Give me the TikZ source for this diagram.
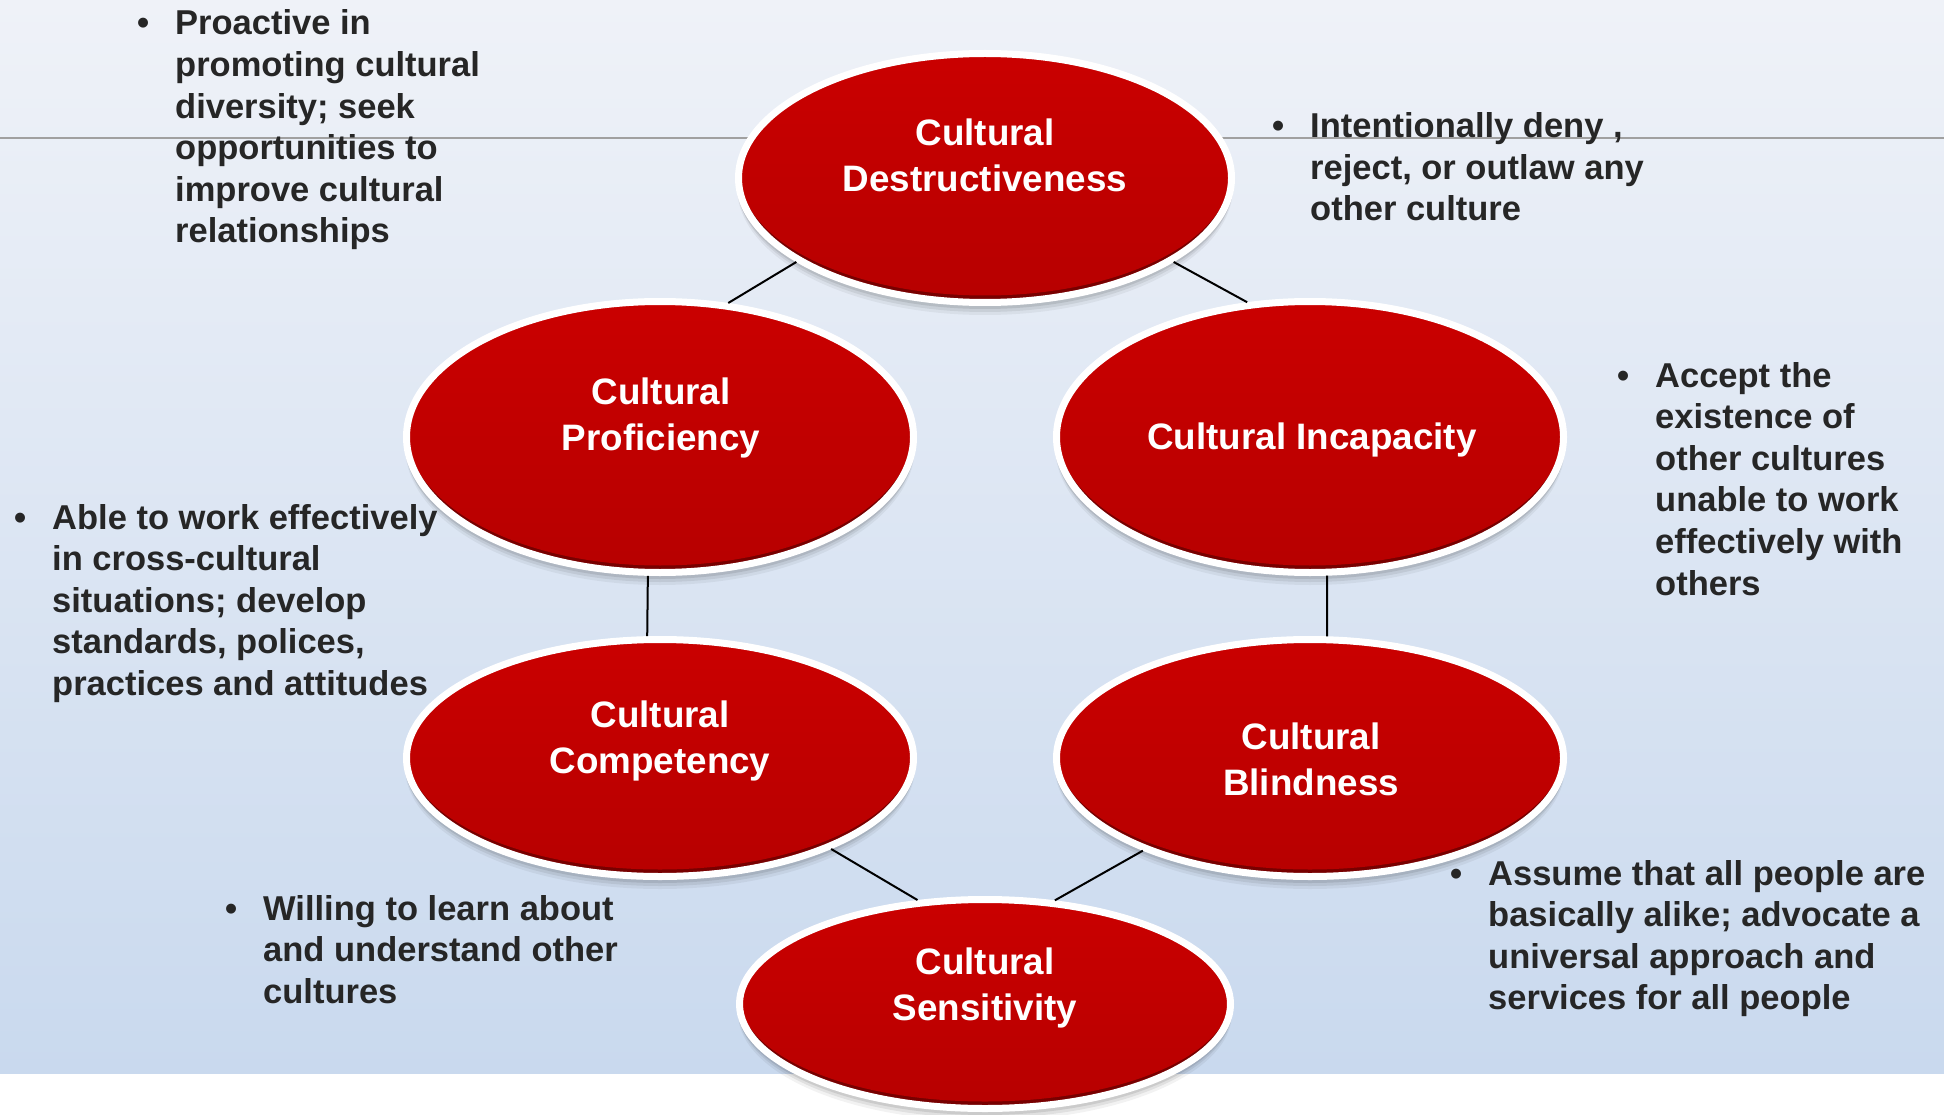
\documentclass[tikz,border=0pt]{standalone}
\usepackage{fontspec}
\setmainfont{Liberation Sans}
\usetikzlibrary{shapes.geometric}
\definecolor{bgtop}{HTML}{EFF2F8}
\definecolor{bgbot}{HTML}{C9D9EE}
\definecolor{hired}{HTML}{CA0000}
\definecolor{midred}{HTML}{BA0000}
\definecolor{mainred}{HTML}{B70000}
\definecolor{rimred}{HTML}{780000}
\definecolor{textgray}{HTML}{262626}
\definecolor{rulegray}{HTML}{A0A0A0}
\newcommand\sidelines[1]{\begin{tabular}[t]{@{}l@{}}#1\end{tabular}}
\newcommand\ovallines[1]{\begin{tabular}[t]{@{}c@{}}#1\end{tabular}}
\newcommand\bul{\llap{\textbullet\hspace{26pt}}}
\newcommand\ovalshadow[4]{%
  \fill[black,opacity=.05] (#1,#2+9) ellipse [x radius=#3pt-2pt, y radius=#4pt];
  \fill[black,opacity=.07] (#1,#2+6) ellipse [x radius=#3pt-2pt, y radius=#4pt];
  \fill[black,opacity=.09] (#1,#2+3) ellipse [x radius=#3pt-1pt, y radius=#4pt];
}
\tikzset{
  oval/.style 2 args={ellipse, inner sep=0pt, minimum width=#1, minimum height=#2,
     draw=white, line width=7pt, fill=rimred,
     path picture={\shade[top color=hired, middle color=midred, bottom color=mainred]
        ([yshift=5pt]path picture bounding box.center) ellipse [x radius=#1/2-1pt, y radius=#2/2-2pt];}},
  ovaltext/.style={anchor=base, inner sep=0pt, text=white, font=\bfseries\fontsize{36.8}{46}\selectfont},
  sidetext/.style={anchor=base west, inner sep=0pt, text=textgray, font=\bfseries\fontsize{34.5}{41.6}\selectfont},
  link/.style={draw=black, line width=2pt},
}
\begin{document}
\begin{tikzpicture}[x=1pt,y=-1pt]
\useasboundingbox (0,0) rectangle (1944,1115);
\fill[white] (0,0) rectangle (1944,1115);
\shade[top color=bgtop, bottom color=bgbot] (0,0) rectangle (1944,1073);
\draw[rulegray, line width=2pt] (0,138) -- (1944,138);

% shadows
\ovalshadow{985}{178}{250}{128}
\ovalshadow{660}{437}{257}{139}
\ovalshadow{1310}{437}{257}{139}
\ovalshadow{660}{758}{257}{122}
\ovalshadow{1310}{758}{257}{122}
\ovalshadow{985}{1004}{249}{108}

% ovals
\node[oval={493pt}{249pt}] (D) at (985,178) {};
\node[oval={507pt}{271pt}] (P) at (660,437) {};
\node[oval={507pt}{271pt}] (I) at (1310,437) {};
\node[oval={507pt}{237pt}] (C) at (660,758) {};
\node[oval={507pt}{237pt}] (B) at (1310,758) {};
\node[oval={491pt}{209pt}] (S) at (985,1004) {};

% connectors
\draw[link] (D.204) -- (P.63);
\draw[link] (D.336) -- (I.115);
\draw[link] (P.265) -- (C.96);
\draw[link] (I.277) -- (B.82);
\draw[link] (C.332) -- (S.123);
\draw[link] (B.209) -- (S.56);

% oval texts
\node[ovaltext] (Dt) at (985,146) {\ovallines{Cultural\\Destructiveness}};
\node[ovaltext] (Pt) at (661,404) {\ovallines{Cultural\\Proficiency}};
\node[ovaltext] (It) at (1312,449.5) {Cultural Incapacity};
\node[ovaltext] (Ct) at (660,727) {\ovallines{Cultural\\Competency}};
\node[ovaltext] (Bt) at (1311,749) {\ovallines{Cultural\\Blindness}};
\node[ovaltext] (St) at (985,974) {\ovallines{Cultural\\Sensitivity}};

% side texts
\node[sidetext] (tl) at (175,35) {\sidelines{\bul Proactive in\\promoting cultural\\diversity; seek\\opportunities to\\improve cultural\\relationships}};
\node[sidetext] (tr) at (1310,137.5) {\sidelines{\bul Intentionally deny ,\\reject, or outlaw any\\other culture}};
\node[sidetext] (rt) at (1655,387) {\sidelines{\bul Accept the\\existence of\\other cultures\\unable to work\\effectively with\\others}};
\node[sidetext] (lt) at (52,529) {\sidelines{\bul Able to work effectively\\in cross-cultural\\situations; develop\\standards, polices,\\practices and attitudes}};
\node[sidetext] (bl) at (263,920) {\sidelines{\bul Willing to learn about\\and understand other\\cultures}};
\node[sidetext] (br) at (1488,885) {\sidelines{\bul Assume that all people are\\basically alike; advocate a\\universal approach and\\services for all people}};
\end{tikzpicture}
\end{document}
